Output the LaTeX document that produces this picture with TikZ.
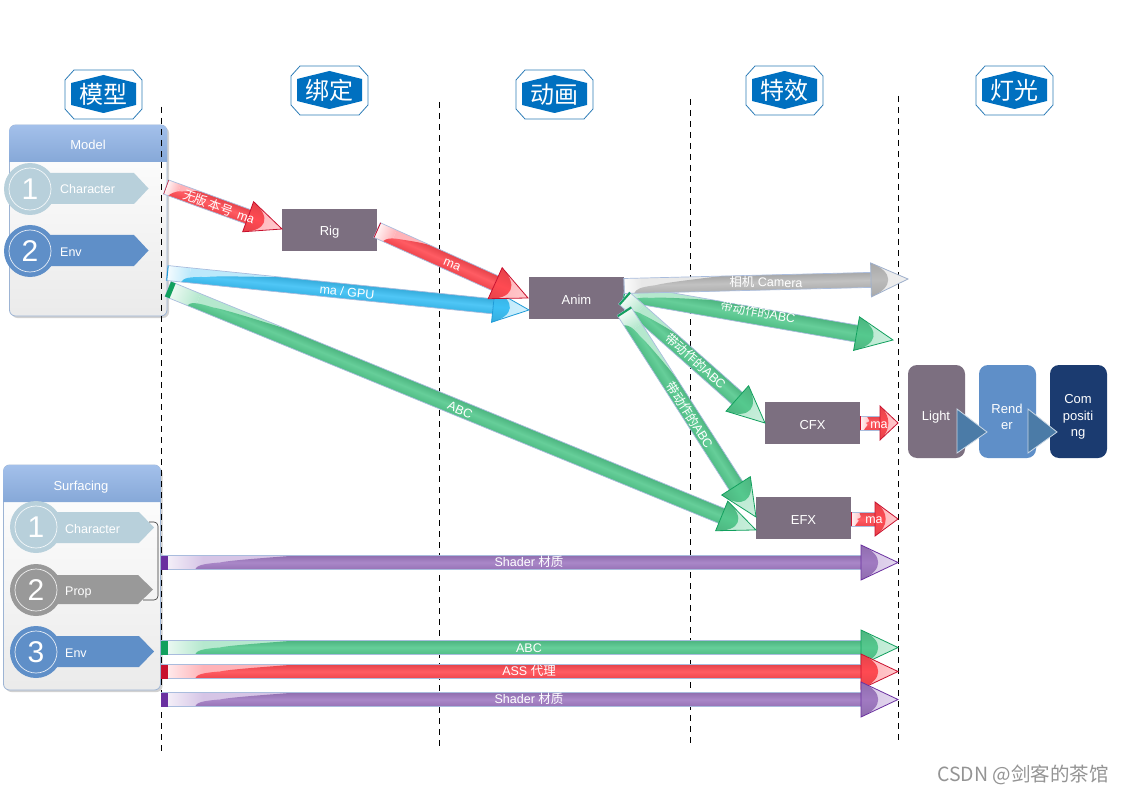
\documentclass[tikz,border=0pt]{standalone}
\usepackage{fontspec}
\setmainfont{Liberation Sans}
\newfontfamily\cjk{Noto Sans CJK SC}
\usetikzlibrary{calc}
\definecolor{redB}{HTML}{FF4A52}\definecolor{redL}{HTML}{FFB3B8}\definecolor{redE}{HTML}{C8102E}
\definecolor{grnB}{HTML}{55C98E}\definecolor{grnL}{HTML}{B5E8CE}\definecolor{grnE}{HTML}{12A05E}
\definecolor{bluB}{HTML}{3CC0F5}\definecolor{bluL}{HTML}{BCE9FB}\definecolor{bluE}{HTML}{1E9BD8}
\definecolor{purB}{HTML}{A07AC2}\definecolor{purL}{HTML}{D6C5E6}\definecolor{purE}{HTML}{6A30A0}
\definecolor{gryB}{HTML}{BBBBBB}\definecolor{gryL}{HTML}{E8E8E8}\definecolor{gryE}{HTML}{9FB0CC}
\definecolor{shaftedge}{HTML}{A9BCDD}
\definecolor{boxgrey}{HTML}{7C6F80}
\definecolor{tone}{HTML}{5F8FC8}
\definecolor{navy}{HTML}{1B3B70}
\definecolor{pale}{HTML}{B8D0DB}
\definecolor{badgeblue}{HTML}{0070C0}
\definecolor{badgeline}{HTML}{2E7DB8}
\definecolor{tri}{HTML}{4B7BA7}
\definecolor{panelline}{HTML}{9DB4D4}
\definecolor{headtop}{HTML}{A3C0EA}
\definecolor{headbot}{HTML}{86A8D8}
\tikzset{
  boxnode/.style={fill=boxgrey,text=white,inner sep=0pt,text height=12pt,text depth=0pt,font=\fontsize{13}{13}\selectfont},
  stage/.style={rounded corners=9pt,inner sep=0pt,minimum width=57pt,minimum height=93pt},
  stagetext/.style={text=white,inner sep=0pt,align=center,font=\fontsize{13}{16.5}\selectfont},
  guide/.style={black,dashed,line width=0.9pt,dash pattern=on 6pt off 5pt},
  lab/.style={text=white,inner sep=0pt,font=\fontsize{12.5}{12.5}\selectfont},
  badgetext/.style={text=white,inner sep=0pt,font=\cjk\fontsize{24}{24}\selectfont},
  paneltitle/.style={text=white,inner sep=0pt,text height=9pt,text depth=0pt,font=\fontsize{13}{13}\selectfont},
}
\newcommand\arrowgeom[2]{%
  \pgfpointanchor{#1}{center}\pgfgetlastxy{\axx}{\ayy}%
  \pgfpointanchor{#2}{center}\pgfgetlastxy{\bxx}{\byy}%
  \pgfmathsetmacro\arang{atan2(\byy-\ayy,\bxx-\axx)}%
  \pgfmathsetmacro\arlen{veclen(\bxx-\axx,\byy-\ayy)}%
}
% from, to, colour prefix, head half width, head length, tail band, fade length, shaft half width
\newcommand\fatarrow[8]{%
  \begingroup
  \arrowgeom{#1}{#2}%
  \pgfmathsetmacro\arB{\arlen-#5}%
  \pgfmathsetmacro\arF{min(#7,\arB)}%
  \pgfmathsetmacro\arT{min(\arF+min(100,0.35*\arB),\arB)}%
  \pgfmathsetmacro\arM{\arF+0.25*(\arT-\arF)}%
  \pgfmathsetmacro\arG{min(\arF+8,\arB)}%
  \def\arH{#8}%
  \begin{scope}[transform canvas={shift={(#1)},rotate=\arang},x=1pt,y=1pt]
    \shade[left color=#3L!15!white,right color=#3L] (0,-\arH) rectangle (\arG,\arH);
    \fill[#3L] (\arG,-\arH) rectangle (\arT,\arH);
    \shade[top color=#3B!90!black,bottom color=#3B!94!black,middle color=#3B!90!white]
      (\arF,-\arH) .. controls ({\arF+2},{-\arH*0.45}) and ({\arF+6},{-\arH*0.2}) .. (\arM,0)
      .. controls ({\arM+10},{\arH*0.35}) and ({\arT-10},{\arH*0.85}) .. (\arT,\arH) -- (\arB,\arH) -- (\arB,-\arH) -- cycle;
    \draw[shaftedge,line width=0.7pt] (\arB,\arH) -- (0,\arH) -- (0,-\arH) -- (\arB,-\arH);
    \fill[#3E] (0,-\arH) rectangle (#6,\arH);
    \begin{scope}
      \clip (\arB,-#4) -- (\arlen,0) -- (\arB,#4) -- cycle;
      \shade[left color=#3L,right color=#3L!70!white] (\arB,-#4) rectangle (\arlen,#4);
      \shade[top color=#3B!90!black,bottom color=#3B!90!black,middle color=#3B]
        (\arB,-#4) .. controls ({\arB+#5*0.62},{-#4*0.45}) and ({\arB+#5*0.62},{#4*0.45}) .. (\arB,#4) -- cycle;
    \end{scope}
    \draw[#3E,line width=0.8pt,line join=miter] (\arB,-#4) -- (\arlen,0) -- (\arB,#4) -- cycle;
  \end{scope}
  \endgroup
}
% name, x left, y top, text
\newcommand\badge[4]{%
  \def\bx{#2}\def\by{#3}%
  \draw[badgeline,line width=0.8pt,fill=white]
    (\bx+9,\by) -- (\bx+68,\by) -- (\bx+77,\by+10) -- (\bx+77,\by+39) -- (\bx+68,\by+49)
    -- (\bx+9,\by+49) -- (\bx,\by+39) -- (\bx,\by+10) -- cycle;
  \fill[badgeblue]
    (\bx+6,\by+13) -- (\bx+38.5,\by+5) -- (\bx+71,\by+13) -- (\bx+71,\by+35)
    -- (\bx+38.5,\by+43) -- (\bx+6,\by+35) -- cycle;
  \node[badgetext] (#1) at (\bx+38.5,\by+24.5) {#4};
}
\newcommand\discribbon[9]{%
  \def\dn{#1}\def\dcx{#2}\def\dcy{#3}\def\dcol{#4}\def\dnum{#5}\def\dsh{#6}\def\dtip{#7}\def\dtop{#8}\def\dbot{#9}%
  \discribbonb
}
\newcommand\discribbonb[2]{%
  \fill[\dcol] (\dcx+15,\dtop) -- (\dsh,\dtop) -- (\dtip,{(\dtop+\dbot)/2}) -- (\dsh,\dbot) -- (\dcx+15,\dbot) -- cycle;
  \fill[\dcol] (\dcx,\dcy) circle (26pt);
  \draw[white!85!\dcol,line width=0.7pt] (\dcx,\dcy) circle (21pt);
  \node[text=white,inner sep=0pt,font=\fontsize{30}{30}\selectfont] (\dn num) at (\dcx,\dcy) {\dnum};
  \node[text=white,inner sep=0pt,anchor=west,text height=9pt,text depth=0pt,font=\fontsize{12.5}{12.5}\selectfont] (\dn txt) at (#2,{(\dtop+\dbot)/2+1}) {#1};
}
\begin{document}
\begin{tikzpicture}[x=1pt,y=-1pt]
\useasboundingbox (0,0) rectangle (1123,794);
\fill[white] (0,0) rectangle (1123,794);
% guides
\coordinate (g1a) at (161,107); \coordinate (g1b) at (161,752);
\coordinate (g2a) at (439,102); \coordinate (g2b) at (439,746);
\coordinate (g3a) at (690,99);  \coordinate (g3b) at (690,744);
\coordinate (g4a) at (898,96);  \coordinate (g4b) at (898,742);
\draw[guide] (g1a) -- (g1b);
\draw[guide] (g2a) -- (g2b);
\draw[guide] (g3a) -- (g3b);
\draw[guide] (g4a) -- (g4b);
% badges
\badge{b1}{65}{70}{模型}
\badge{b2}{291}{66}{绑定}
\badge{b3}{516}{70}{动画}
\badge{b4}{746}{66}{特效}
\badge{b5}{976}{66}{灯光}
% Model panel
\fill[black!18,rounded corners=6pt] (11.5,127) rectangle (169,318);
\shade[top color=white,bottom color=black!8,draw=panelline,line width=0.8pt,rounded corners=6pt] (9.5,125) rectangle (167,316);
\shade[top color=headtop,bottom color=headbot]
  (9.5,162) [rounded corners=6pt] -- (9.5,125) -- (167,125) [sharp corners] -- (167,162) -- cycle;
\node[paneltitle] (model) at (88,145) {Model};
\discribbon{m1}{30}{189}{pale}{1}{134}{148.5}{173}{204}{Character}{60}
\discribbon{m2}{30}{251}{tone}{2}{134}{148.5}{235}{266}{Env}{60}
% Surfacing panel
\fill[black!18,rounded corners=6pt] (5.5,467) rectangle (162.5,692);
\shade[top color=white,bottom color=black!8,draw=panelline,line width=0.8pt,rounded corners=6pt] (3.5,465) rectangle (160.5,690);
\shade[top color=headtop,bottom color=headbot]
  (3.5,502) [rounded corners=6pt] -- (3.5,465) -- (160.5,465) [sharp corners] -- (160.5,502) -- cycle;
\node[paneltitle] (surf) at (81,486) {Surfacing};
\draw[guide] (g1a) -- (g1b);
\discribbon{s1}{36}{527}{pale}{1}{139}{154}{512}{543}{Character}{65}
\discribbon{s2}{36}{590}{black!40}{2}{138}{153}{575}{604}{Prop}{65}
\discribbon{s3}{36}{652}{tone}{3}{139}{154}{636}{667}{Env}{65}
\coordinate (bra) at (149,522); \coordinate (brb) at (143,600);
\draw[black!80,line width=0.6pt,rounded corners=4pt] (bra) -- (158,522) -- (158,600) -- (brb);
% process boxes
\node[boxnode,minimum width=95pt,minimum height=42pt] (rig) at (329.5,230) {Rig};
\node[boxnode,minimum width=95pt,minimum height=42pt] (anim) at (576.5,298) {Anim};
\node[boxnode,minimum width=95pt,minimum height=42pt] (cfx) at (812.5,423) {CFX};
\node[boxnode,minimum width=95pt,minimum height=42pt] (efx) at (803.5,518) {EFX};
% stages
\node[stage,fill=boxgrey] (light) at (936.5,411.5) {};
\node[stage,fill=tone] (render) at (1007.5,411.5) {};
\node[stage,fill=navy] (comp) at (1078.5,411.5) {};
\node[stagetext] (lightt) at (936,417) {Light};
\node[stagetext] (rendert) at (1007,417) {Rend\\er};
\node[stagetext] (compt) at (1078,417) {Com\\positi\\ng};
\coordinate (t1a) at (957,409); \coordinate (t1b) at (987,432); \coordinate (t1c) at (957,453);
\coordinate (t2a) at (1028,409); \coordinate (t2b) at (1057,432); \coordinate (t2c) at (1028,453);
\draw[fill=tri,draw=white!70!tri,line width=0.8pt] (t1a) -- (t1b) -- (t1c) -- cycle;
\draw[fill=tri,draw=white!70!tri,line width=0.8pt] (t2a) -- (t2b) -- (t2c) -- cycle;
% arrow ends
\coordinate (a1) at (166,187);  \coordinate (a1t) at (282,229);
\coordinate (a2) at (377,230);  \coordinate (a2t) at (528,298);
\coordinate (a3) at (167,273);  \coordinate (a3t) at (529,310);
\coordinate (a4) at (168,289);  \coordinate (a4t) at (756,530);
\coordinate (a5) at (624,286);  \coordinate (a5t) at (908,279);
\coordinate (a6) at (624,293);  \coordinate (a6t) at (893,340);
\coordinate (a7) at (624,298);  \coordinate (a7t) at (765,423);
\coordinate (a8) at (624,311);  \coordinate (a8t) at (756,517);
\coordinate (a9) at (860,423);  \coordinate (a9t) at (898,423);
\coordinate (a10) at (851,519); \coordinate (a10t) at (898,519);
\coordinate (a11) at (161,562.5); \coordinate (a11t) at (898,562.5);
\coordinate (a12) at (161,647.5); \coordinate (a12t) at (898,647.5);
\coordinate (a13) at (161,671.5); \coordinate (a13t) at (898,671.5);
\coordinate (a14) at (161,699.5); \coordinate (a14t) at (898,699.5);
\fatarrow{a3}{a3t}{blu}{16}{36}{1}{15}{7.5}
\fatarrow{a1}{a1t}{red}{16}{36}{0.5}{5}{7.5}
\fatarrow{a2}{a2t}{red}{17}{36}{0.8}{10}{8}
\fatarrow{a4}{a4t}{grn}{16}{37}{5}{24}{8}
\fatarrow{a6}{a6t}{grn}{17}{37}{1}{8}{8.5}
\fatarrow{a5}{a5t}{gry}{17}{37}{0.5}{10}{7.5}
\fatarrow{a7}{a7t}{grn}{17}{37}{2}{12}{8}
\fatarrow{a8}{a8t}{grn}{17}{37}{2}{12}{8}
\fatarrow{a9}{a9t}{red}{17}{18}{0.5}{4}{7}
\fatarrow{a10}{a10t}{red}{17}{23}{0.5}{4}{7}
\fatarrow{a11}{a11t}{pur}{17.5}{37}{7}{34}{7}
\fatarrow{a12}{a12t}{grn}{17.5}{37}{7}{34}{7}
\fatarrow{a13}{a13t}{red}{17.5}{37}{7}{34}{7}
\fatarrow{a14}{a14t}{pur}{17.5}{37}{7}{34}{7}
% labels
\node[lab,rotate=-20] (l1) at (219,207) {{\cjk 无版\,本号}\, ma};
\node[lab,rotate=-23] (l2) at (452,265) {ma};
\node[lab,rotate=-6] (l3) at (347,292) {ma / GPU};
\node[lab,rotate=-24] (l4) at (460,410) {ABC};
\node[lab,rotate=-1] (l5) at (766,282) {{\cjk 相机} Camera};
\node[lab,rotate=-10.5] (l6) at (758,312) {{\cjk 带动作的}ABC};
\node[lab,rotate=-42] (l7) at (696,361) {{\cjk 带动作的}ABC};
\node[lab,rotate=-58] (l8) at (690,415) {{\cjk 带动作的}ABC};
\node[lab] (l9) at (879,425) {ma};
\node[lab] (l10) at (874,520) {ma};
\node[lab] (l11) at (529,562) {Shader {\cjk 材质}};
\node[lab] (l12) at (529,648) {ABC};
\node[lab] (l13) at (529,671) {ASS {\cjk 代理}};
\node[lab] (l14) at (529,699) {Shader {\cjk 材质}};
% watermark
\node[text=black!42,inner sep=0pt,anchor=east,font=\cjk\fontsize{19.5}{19.5}\selectfont] (wm) at (1109,775) {CSDN @剑客的茶馆};
\end{tikzpicture}
\end{document}
